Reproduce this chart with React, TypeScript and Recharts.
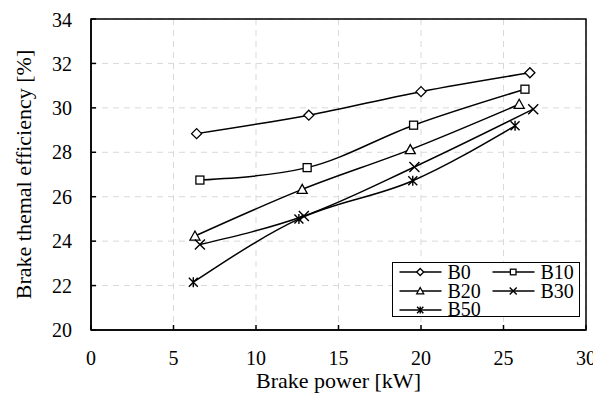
import {
  CartesianGrid,
  Label,
  Legend,
  Line,
  LineChart,
  ReferenceArea,
  XAxis,
  YAxis,
} from "recharts";

const FONT = "'Liberation Serif', 'DejaVu Serif', serif";
const INK = "#000";
const GRID = "#d9d9d9";

const xTicks = [0, 5, 10, 15, 20, 25, 30];
const yTicks = [20, 22, 24, 26, 28, 30, 32, 34];

// brake power [kW] / brake thermal efficiency [%] per blend
const b0Power = [6.4, 13.2, 20.0, 26.6];
const b0Bte = [28.84, 29.67, 30.73, 31.58];
const b10Power = [6.6, 13.1, 19.55, 26.3];
const b10Bte = [26.75, 27.31, 29.22, 30.84];
const b20Power = [6.3, 12.8, 19.35, 25.95];
const b20Bte = [24.23, 26.33, 28.12, 30.16];
const b30Power = [6.6, 12.9, 19.6, 26.8];
const b30Bte = [23.85, 25.13, 27.34, 29.94];
const b50Power = [6.2, 12.6, 19.5, 25.7];
const b50Bte = [22.15, 25.0, 26.72, 29.19];

type Shape = "diamond" | "square" | "triangle" | "cross" | "star";

const series: { name: string; power: number[]; bte: number[]; shape: Shape }[] = [
  { name: "B0", power: b0Power, bte: b0Bte, shape: "diamond" },
  { name: "B10", power: b10Power, bte: b10Bte, shape: "square" },
  { name: "B20", power: b20Power, bte: b20Bte, shape: "triangle" },
  { name: "B30", power: b30Power, bte: b30Bte, shape: "cross" },
  { name: "B50", power: b50Power, bte: b50Bte, shape: "star" },
];

function toPoints(power: number[], bte: number[]) {
  return power.map((p, i) => ({ power: p, bte: bte[i] }));
}

function Marker({ cx, cy, shape, s = 1 }: { cx: number; cy: number; shape: Shape; s?: number }) {
  const r = 5 * s;
  const common = { fill: "#fff", stroke: INK, strokeWidth: 1.3 };
  switch (shape) {
    case "diamond":
      return <path d={`M${cx},${cy - r}L${cx + r},${cy}L${cx},${cy + r}L${cx - r},${cy}Z`} {...common} />;
    case "square":
      return <rect x={cx - r * 0.8} y={cy - r * 0.8} width={r * 1.6} height={r * 1.6} {...common} />;
    case "triangle":
      return <path d={`M${cx},${cy - r}L${cx + r},${cy + r * 0.8}L${cx - r},${cy + r * 0.8}Z`} {...common} />;
    case "cross":
      return (
        <path
          d={`M${cx - r},${cy - r}L${cx + r},${cy + r}M${cx + r},${cy - r}L${cx - r},${cy + r}`}
          stroke={INK}
          strokeWidth={1.4}
          fill="none"
        />
      );
    default:
      return (
        <path
          d={`M${cx - r * 0.9},${cy - r * 0.9}L${cx + r * 0.9},${cy + r * 0.9}M${cx + r * 0.9},${cy - r * 0.9}L${cx - r * 0.9},${cy + r * 0.9}M${cx},${cy - r}L${cx},${cy + r}`}
          stroke={INK}
          strokeWidth={1.4}
          fill="none"
        />
      );
  }
}

function LegendBox() {
  return (
    <div
      style={{
        boxSizing: "border-box",
        width: 188,
        height: 55,
        border: `1.5px solid ${INK}`,
        background: "#fff",
        display: "grid",
        gridTemplateColumns: "93px 93px",
        gridAutoRows: "18.7px",
        fontFamily: FONT,
        fontSize: 20,
        color: INK,
      }}
    >
      {series.map((s) => (
        <div key={s.name} style={{ display: "flex", alignItems: "center", height: 18.7 }}>
          <svg width={49} height={18} style={{ display: "block", flex: "none" }}>
            <line x1={6.5} x2={48.5} y1={9} y2={9} stroke={INK} strokeWidth={1.5} />
            <Marker cx={27.2} cy={9} shape={s.shape} s={0.7} />
          </svg>
          <div style={{ marginLeft: 5.5, height: 18.7, lineHeight: "18.7px", overflow: "visible" }}>{s.name}</div>
        </div>
      ))}
    </div>
  );
}

export default function App() {
  return (
    <div style={{ fontFamily: FONT }}>
      <LineChart
        width={593}
        height={386}
        margin={{ top: 11, right: 15, bottom: 0, left: 0 }}
        style={{ fontFamily: FONT }}
      >
        <CartesianGrid stroke={GRID} strokeDasharray="6 5" />
        <XAxis
          type="number"
          dataKey="power"
          domain={[0, 30]}
          ticks={xTicks}
          height={64}
          stroke={INK}
          strokeWidth={1.5}
          tickSize={-5}
          tickMargin={26}
          tick={{ fill: INK, fontSize: 20, style: { fontFamily: FONT } }}
        >
          <Label
            value="Brake power [kW]"
            position="insideBottom"
            offset={6}
            style={{ fill: INK, fontSize: 22, fontFamily: FONT }}
          />
        </XAxis>
        <YAxis
          type="number"
          dataKey="bte"
          domain={[20, 34]}
          ticks={yTicks}
          width={83}
          stroke={INK}
          strokeWidth={1.5}
          tickSize={-5}
          tickMargin={24}
          tick={{ fill: INK, fontSize: 20, style: { fontFamily: FONT } }}
        >
          <Label
            value="Brake themal efficiency [%]"
            angle={-90}
            position="center"
            dx={-26.5}
            style={{ fill: INK, fontSize: 22, fontFamily: FONT, textAnchor: "middle" }}
          />
        </YAxis>
        <ReferenceArea x1={0} x2={30} y1={20} y2={34} fill="none" stroke={INK} strokeWidth={1.5} />
        {series.map((s) => (
          <Line
            key={s.name}
            data={toPoints(s.power, s.bte)}
            dataKey="bte"
            name={s.name}
            type="monotone"
            stroke={INK}
            strokeWidth={1.5}
            isAnimationActive={false}
            dot={(p: any) => <Marker key={`${s.name}-${p.index}`} cx={p.cx} cy={p.cy} shape={s.shape} />}
            activeDot={false}
          />
        ))}
        <Legend
          verticalAlign="middle"
          layout="horizontal"
          content={() => <LegendBox />}
          wrapperStyle={{ position: "absolute", left: 384, top: 254, width: 188, height: 55 }}
        />
      </LineChart>
    </div>
  );
}
